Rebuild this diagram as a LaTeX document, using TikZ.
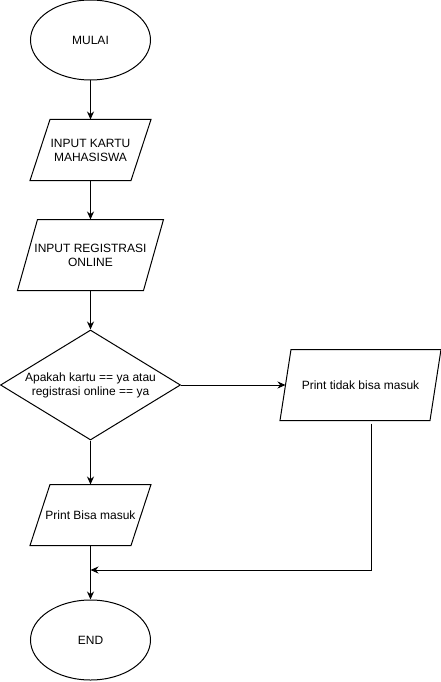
\documentclass[tikz,border=0pt]{standalone}
\usepackage{fontspec}
\setmainfont{Liberation Sans}
\usepackage{tikz}
\usetikzlibrary{calc,shapes.geometric,arrows.meta}

\begin{document}
\begin{tikzpicture}[x=1pt,y=-1pt,
  font=\fontsize{12}{14}\selectfont, line width=1pt,
  terminal/.style={ellipse, draw, minimum width=120pt, minimum height=80pt, inner sep=0pt},
  masukan/.style={rectangle, align=center, inner sep=0pt},
  keputusan/.style={diamond, draw, aspect=1.64, minimum width=180pt, minimum height=110pt, inner sep=0pt, align=center},
  panah/.style={-{Stealth[length=8pt,width=7pt]}}]
\useasboundingbox (0,0) rectangle (441,682);
\node [terminal] (mulai) at (90.5,40) {MULAI};
\node [masukan, minimum width=100pt, minimum height=60pt] (kartu) at (90.5,150) {INPUT KARTU\\MAHASISWA};
\node [masukan, minimum width=125pt, minimum height=70pt] (regis) at (90.5,255) {INPUT REGISTRASI\\ONLINE};
\node [keputusan] (cek) at (90.5,385) {Apakah kartu == ya atau\\registrasi online == ya};
\node [masukan, minimum width=149pt, minimum height=70pt] (tidak) at (360.5,385) {Print tidak bisa masuk};
\node [masukan, minimum width=100pt, minimum height=60pt] (bisa) at (90.5,515) {Print Bisa masuk};
\node [terminal] (akhir) at (90.5,640) {END};
% jajaran genjang
\foreach \n/\s in {kartu/10,regis/10,tidak/5.5,bisa/10}
  \draw ($(\n.north west)+(\s,0)$) -- ($(\n.north east)+(\s,0)$) -- ($(\n.south east)+(-\s,0)$) -- ($(\n.south west)+(-\s,0)$) -- cycle;
\coordinate (belok) at (371,570);
\coordinate (gabung) at (90.5,570);
% alur utama
\draw [panah] (mulai) -- (kartu);
\draw [panah] (kartu) -- (regis);
\draw [panah] (regis) -- (cek);
\draw [panah] (cek) -- (tidak);
\draw [panah] (cek) -- (bisa);
\draw [panah] (bisa) -- (akhir);
% cabang tidak
\draw [panah] ($(tidak.south -| belok)+(0,3)$) -- (belok) -- (gabung);
\end{tikzpicture}
\end{document}
